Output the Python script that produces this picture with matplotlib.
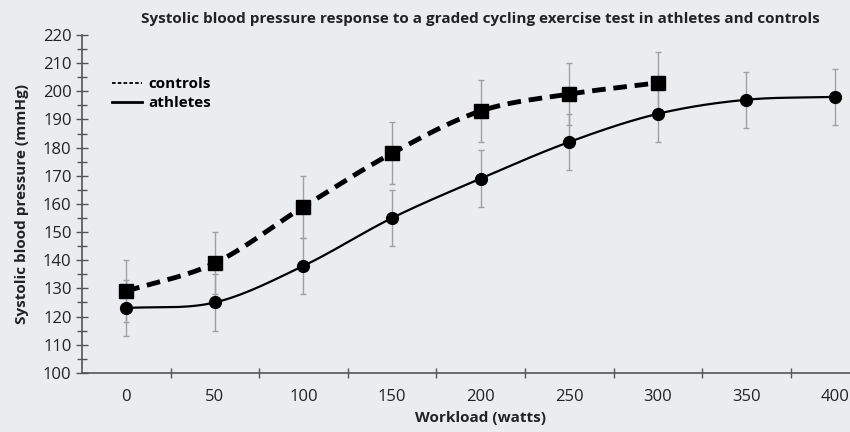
import numpy as np
import matplotlib.pyplot as plt
from matplotlib.lines import Line2D

# data
workload = [0, 50, 100, 150, 200, 250, 300, 350, 400]
controls = [129, 139, 159, 178, 193, 199, 203]
controls_err = [11, 11, 11, 11, 11, 11, 11]
athletes = [123, 125, 138, 155, 169, 182, 192, 197, 198]
athletes_err = [10, 10, 10, 10, 10, 10, 10, 10, 10]


def smooth(x, y, n=30):
    # Catmull-Rom style smoothing like Excel's smoothed line
    x = np.asarray(x, float)
    y = np.asarray(y, float)
    px = np.concatenate([[2 * x[0] - x[1]], x, [2 * x[-1] - x[-2]]])
    py = np.concatenate([[2 * y[0] - y[1]], y, [2 * y[-1] - y[-2]]])
    xs, ys = [], []
    t = np.linspace(0, 1, n)
    for i in range(1, len(px) - 2):
        p0, p1, p2, p3 = py[i - 1], py[i], py[i + 1], py[i + 2]
        q0, q1, q2, q3 = px[i - 1], px[i], px[i + 1], px[i + 2]
        ys.append(0.5 * (2 * p1 + (-p0 + p2) * t + (2 * p0 - 5 * p1 + 4 * p2 - p3) * t ** 2
                         + (-p0 + 3 * p1 - 3 * p2 + p3) * t ** 3))
        xs.append(0.5 * (2 * q1 + (-q0 + q2) * t + (2 * q0 - 5 * q1 + 4 * q2 - q3) * t ** 2
                         + (-q0 + 3 * q1 - 3 * q2 + q3) * t ** 3))
    return np.concatenate(xs), np.concatenate(ys)


plt.rcParams['font.family'] = ['Open Sans', 'DejaVu Sans']
bg = "#ebecee"
axc = "#555555"

fig = plt.figure(figsize=(8.5, 4.32), dpi=100, facecolor=bg)
ax = fig.add_axes([0.0965, 0.137, 0.938, 0.782], facecolor=bg)

pos = np.arange(len(workload))
cpos = pos[:len(controls)]

ax.errorbar(pos, athletes, yerr=athletes_err, fmt="none", ecolor="#a0a0a0",
            elinewidth=1, capsize=2.5, capthick=1, zorder=1)
ax.errorbar(cpos, controls, yerr=controls_err, fmt="none", ecolor="#a0a0a0",
            elinewidth=1, capsize=2.5, capthick=1, zorder=1)

sx, sy = smooth(pos, athletes)
ax.plot(sx, sy, color="black", lw=1.6, zorder=2)
ax.plot(pos, athletes, "o", color="black", ms=8.5, zorder=3)

sx, sy = smooth(cpos, controls)
ax.plot(sx, sy, color="black", lw=3.5, dashes=(2.8, 1.6), zorder=2)
ax.plot(cpos, controls, "s", color="black", ms=10, zorder=3)

ax.set_xlim(-0.5, 8.5)
ax.set_ylim(100, 220)
ax.set_xticks(pos)
ax.set_xticklabels([str(w) for w in workload])
ax.set_xticks(pos[:-1] + 0.5, minor=True)
ax.set_yticks(np.arange(100, 221, 10))
ax.set_yticks(np.arange(105, 220, 10), minor=True)

ax.tick_params(axis="x", which="major", length=0, pad=12, labelsize=12, labelcolor="#222222")
ax.tick_params(axis="x", which="minor", direction="inout", length=7, width=1, color=axc)
ax.tick_params(axis="y", which="major", direction="inout", length=9, width=1, color=axc,
               labelsize=12, labelcolor="#222222", pad=3)
ax.tick_params(axis="y", which="minor", direction="inout", length=7, width=1, color=axc)

for s in ["top", "right"]:
    ax.spines[s].set_visible(False)
for s in ["left", "bottom"]:
    ax.spines[s].set_color(axc)
    ax.spines[s].set_linewidth(1.2)

ax.set_xlabel("Workload (watts)", fontsize=11, fontweight="bold", color="#222222", labelpad=4)
ax.set_ylabel("Systolic blood pressure (mmHg)", fontsize=11, fontweight="bold", color="#222222", labelpad=10)
fig.text(0.565, 0.955, "Systolic blood pressure response to a graded cycling exercise test in athletes and controls",
         ha="center", va="center", fontsize=11, fontweight="bold", color="#222222")

handles = [Line2D([], [], color="black", lw=1.3, dashes=(2, 1.2)),
           Line2D([], [], color="black", lw=2)]
leg = ax.legend(handles, ["controls", "athletes"], loc="upper left", bbox_to_anchor=(0.02, 0.915),
                frameon=False, handlelength=2.0, handletextpad=0.4, labelspacing=0.3,
                prop={"weight": "bold", "size": 11})

fig.savefig("out.png", dpi=100, facecolor=bg)
